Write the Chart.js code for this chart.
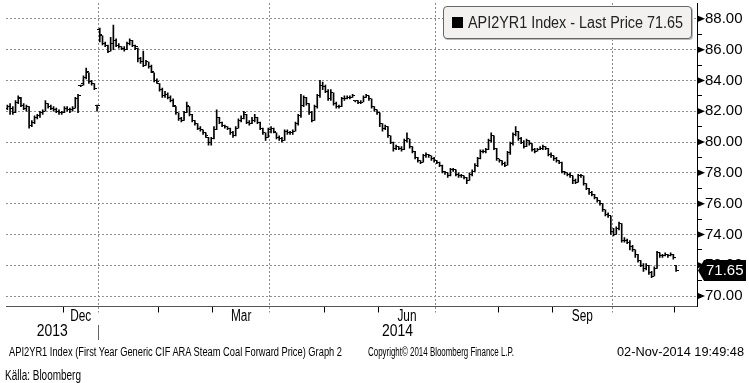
<!DOCTYPE html>
<html>
<head>
<meta charset="utf-8">
<title>API2YR1 Index</title>
<script src="https://cdn.jsdelivr.net/npm/chart.js@4/dist/chart.umd.min.js"></script>
<style>
  html, body { margin:0; padding:0; background:#fff; }
  #wrap { position:relative; width:749px; height:383px; overflow:hidden; background:#fff; }
  #c { position:absolute; left:0; top:0; width:749px; height:383px; }
  .t { position:absolute; white-space:nowrap; font-family:"Liberation Sans", Arial, sans-serif; color:#000; line-height:1; transform-origin:0 50%; }
  #legend { position:absolute; left:443px; top:6px; width:247px; height:31px; border:1px solid #666; border-radius:4px; background:#f2f1ef; box-shadow:1px 1px 0 #bbb; }
  #sq { position:absolute; left:452px; top:17px; width:11px; height:11px; background:#000; }
</style>
</head>
<body>
<div id="wrap">
  <canvas id="c" width="749" height="383"></canvas>
  <div id="legend"></div>
  <div id="sq"></div>
  <div class="t" id="legtext">API2YR1 Index - Last Price 71.65</div>
  <div class="t" id="foot1">API2YR1 Index (First Year Generic CIF ARA Steam Coal Forward Price) Graph 2</div>
  <div class="t" id="foot2">Copyright© 2014 Bloomberg Finance L.P.</div>
  <div class="t" id="foot3">02-Nov-2014 19:49:48</div>
  <div class="t" id="source">Källa: Bloomberg</div>
</div>
<script>
// ---- DATA (daily bars, Nov 2013 - Oct 2014, trading-day index) ----
const openPx = [
82.2,82.3,82.2,81.9,82.6,82.8,82.4,82.2,82.3,81.1,
81.3,81.6,81.7,81.9,82.0,82.5,82.3,82.2,82.1,82.0,
81.9,81.9,82.2,82.1,82.1,82.2,82.8,83.7,83.8,84.2,
84.5,83.9,83.8,82.4,87.3,86.9,86.4,86.3,85.9,86.4,
86.6,86.3,86.2,86.1,86.0,86.4,86.6,86.3,86.1,85.4,
85.2,85.0,85.2,84.9,84.5,84.0,83.8,83.4,83.0,83.1,
82.9,82.7,82.3,81.9,81.5,81.4,81.9,82.3,81.8,81.4,
81.2,80.9,80.8,80.6,80.3,80.0,80.2,80.8,81.6,81.3,
81.1,81.0,80.9,80.6,80.4,80.9,81.4,81.5,81.8,81.3,
81.2,81.4,81.6,81.3,80.9,80.6,80.3,80.8,80.9,80.6,
80.3,80.2,80.1,80.7,80.6,80.6,80.7,81.2,81.7,82.4,
82.9,82.5,81.9,81.4,82.3,83.0,83.7,83.6,83.3,82.8,
83.2,82.5,82.3,82.3,82.8,82.8,82.9,82.9,82.7,82.7,
82.6,82.6,82.9,83.0,82.8,82.3,82.1,81.9,81.2,80.9,
81.0,80.4,80.0,79.6,79.7,79.6,79.5,80.1,80.2,79.7,
79.4,79.0,78.8,78.7,79.1,79.2,79.1,78.9,78.8,78.7,
78.5,78.1,78.0,77.8,78.2,78.2,77.9,77.8,77.8,77.7,
77.5,77.9,78.1,78.5,78.9,79.4,79.4,79.5,80.1,80.4,
79.6,78.9,78.8,78.6,78.5,79.3,79.9,80.5,80.7,80.2,
80.0,79.7,80.1,79.9,79.5,79.4,79.5,79.6,79.7,79.6,
79.2,79.1,78.9,78.8,78.7,78.1,78.0,77.9,77.8,77.5,
77.4,77.8,77.8,77.3,77.0,76.7,76.6,76.4,76.2,76.0,
75.6,75.3,75.2,74.2,74.0,74.4,74.7,73.6,73.6,73.5,
73.2,73.0,72.7,72.3,72.0,71.8,72.0,71.5,71.3,71.8,
72.8,72.6,72.6,72.7,72.6,72.7,72.0];
const highPx = [
82.4,82.5,82.3,82.7,83.0,82.9,82.5,82.4,82.3,81.4,
81.7,81.8,82.0,82.1,82.7,82.5,82.4,82.3,82.2,82.1,
82.0,82.3,82.3,82.2,82.3,82.9,83.1,83.7,84.3,84.8,
84.5,84.0,83.8,82.4,87.4,86.9,86.5,86.3,86.8,87.6,
86.7,86.4,86.2,86.2,86.5,86.7,86.6,86.3,86.1,85.5,
85.9,85.3,85.2,85.0,84.5,84.1,83.8,83.5,83.3,83.2,
83.0,82.8,82.3,81.9,81.6,82.0,82.6,82.3,81.8,81.4,
81.2,81.0,80.8,80.6,80.3,80.3,81.0,82.1,81.6,81.3,
81.1,81.0,80.9,80.7,81.0,81.5,81.7,82.0,81.8,81.4,
81.6,81.8,81.6,81.3,80.9,80.6,80.9,81.0,80.9,80.6,
80.4,80.3,80.8,80.8,80.7,80.8,81.3,81.8,83.1,83.0,
82.9,82.5,82.0,82.4,83.1,84.0,83.9,83.7,83.4,83.4,
83.2,82.6,82.4,82.9,83.0,83.0,83.0,83.1,82.7,82.7,
82.7,83.0,83.1,83.0,82.8,82.3,82.1,81.9,81.2,81.1,
81.0,80.4,80.0,79.8,79.7,79.7,80.2,80.6,80.2,79.7,
79.4,79.0,78.8,79.2,79.3,79.2,79.1,79.0,78.8,78.7,
78.5,78.1,78.0,78.3,78.3,78.2,78.0,77.9,77.8,77.7,
78.0,78.2,78.6,79.0,79.5,79.5,79.6,80.2,80.6,80.4,
79.6,78.9,78.8,78.7,79.4,80.0,80.6,81.0,80.7,80.3,
80.1,80.2,80.1,79.9,79.6,79.6,79.7,79.8,79.7,79.6,
79.3,79.1,79.0,78.8,78.7,78.1,78.0,78.0,77.8,77.6,
77.9,77.9,77.8,77.3,77.0,76.8,76.6,76.4,76.2,76.0,
75.6,75.4,75.2,74.4,74.5,74.8,74.7,73.8,73.7,73.6,
73.3,73.0,72.7,72.3,72.1,72.1,72.0,71.6,71.9,72.9,
72.8,72.7,72.8,72.7,72.8,72.7,72.0];
const lowPx = [
82.1,81.8,81.8,81.9,82.5,82.3,82.1,82.0,80.9,81.0,
81.2,81.5,81.6,81.8,82.0,82.2,82.1,82.0,81.9,81.8,
81.8,81.9,82.0,81.9,82.0,82.2,81.9,83.6,83.7,84.1,
83.8,83.7,83.4,82.0,86.5,86.3,86.2,85.8,85.9,86.0,
86.2,86.1,86.0,85.9,86.0,86.3,86.2,86.0,85.2,85.1,
84.9,85.0,84.8,84.5,83.9,83.8,83.3,82.9,82.9,82.8,
82.6,82.3,81.8,81.4,81.3,81.4,81.9,81.7,81.3,81.1,
80.8,80.7,80.5,80.3,79.8,79.8,80.2,80.8,81.2,81.0,
80.9,80.8,80.5,80.3,80.4,80.9,81.3,81.5,81.2,81.1,
81.2,81.3,81.2,80.8,80.5,80.1,80.3,80.6,80.6,80.2,
80.1,80.0,80.1,80.5,80.5,80.5,80.7,81.1,81.6,82.3,
82.4,81.8,81.3,81.4,82.2,82.9,83.4,83.2,82.7,82.7,
82.4,82.2,82.2,82.3,82.7,82.8,82.8,82.9,82.6,82.5,
82.5,82.6,82.9,82.7,82.2,82.0,81.8,81.0,80.7,80.8,
80.3,79.9,79.4,79.5,79.5,79.4,79.5,80.0,79.6,79.3,
78.9,78.7,78.6,78.7,79.0,79.0,78.8,78.7,78.6,78.4,
78.0,77.9,77.7,77.8,78.1,77.8,77.7,77.7,77.6,77.3,
77.5,77.8,78.1,78.4,78.9,79.3,79.3,79.5,80.0,79.5,
78.8,78.7,78.5,78.4,78.5,79.2,79.8,80.4,80.1,79.9,
79.6,79.7,79.8,79.4,79.3,79.4,79.5,79.5,79.5,79.1,
79.0,78.8,78.7,78.6,78.0,77.9,77.8,77.7,77.3,77.3,
77.4,77.7,77.2,76.9,76.6,76.5,76.3,76.1,75.9,75.5,
75.2,75.1,74.0,73.9,74.0,74.3,73.5,73.5,73.4,73.0,
72.9,72.5,72.2,71.9,71.6,71.7,71.4,71.2,71.3,71.8,
72.5,72.5,72.6,72.5,72.6,72.4,71.6];
const closePx = [
82.3,82.2,81.9,82.6,82.9,82.4,82.2,82.3,81.1,81.3,
81.6,81.7,81.9,82.0,82.5,82.3,82.2,82.1,82.0,81.9,
81.9,82.2,82.1,82.1,82.2,82.8,83.0,83.7,84.2,84.6,
83.9,83.8,83.5,82.4,87.0,86.4,86.3,85.9,86.4,86.6,
86.3,86.2,86.1,86.0,86.4,86.6,86.3,86.2,85.4,85.2,
85.0,85.2,84.9,84.6,84.0,83.9,83.4,83.0,83.1,82.9,
82.7,82.4,81.9,81.5,81.4,81.9,82.4,81.8,81.4,81.2,
80.9,80.8,80.6,80.4,80.0,80.2,80.8,81.6,81.3,81.1,
81.0,80.9,80.6,80.4,80.9,81.4,81.5,81.9,81.3,81.2,
81.4,81.6,81.3,80.9,80.6,80.3,80.8,80.9,80.7,80.3,
80.2,80.1,80.7,80.6,80.6,80.7,81.2,81.7,82.4,82.9,
82.5,81.9,81.4,82.3,83.0,83.7,83.6,83.3,82.8,83.2,
82.5,82.3,82.3,82.8,82.8,82.9,82.9,83.0,82.7,82.6,
82.6,82.9,83.0,82.8,82.3,82.1,81.9,81.2,80.9,81.0,
80.4,80.0,79.6,79.7,79.6,79.5,80.1,80.2,79.7,79.4,
79.0,78.8,78.7,79.1,79.2,79.1,78.9,78.8,78.7,78.5,
78.1,78.0,77.8,78.2,78.2,77.9,77.8,77.8,77.7,77.5,
77.9,78.1,78.5,78.9,79.4,79.4,79.5,80.1,80.4,79.6,
78.9,78.8,78.6,78.5,79.3,79.9,80.5,80.7,80.2,80.0,
79.7,80.1,79.9,79.5,79.4,79.5,79.6,79.7,79.6,79.2,
79.1,78.9,78.8,78.7,78.1,78.0,77.9,77.8,77.5,77.4,
77.8,77.8,77.3,77.0,76.7,76.6,76.4,76.2,76.0,75.6,
75.3,75.2,74.2,74.0,74.4,74.7,73.6,73.6,73.5,73.2,
73.0,72.7,72.3,72.0,71.8,72.0,71.5,71.3,71.8,72.8,
72.6,72.6,72.7,72.6,72.7,72.5,71.65];

// month boundaries (in bar-index units) and quarter boundaries
const monthStarts = [20.5, 33.5, 55.5, 75.5, 96.5, 116.5, 136.5, 157.5, 180.5, 200.5, 222.5, 245.5];
const quarterStarts = [33.5, 96.5, 157.5, 222.5];
const monthLabels = ["Dec", "Mar", "Jun", "Sep"];
const monthLabelPos = [27, 86, 147, 211.5];
const yearLabels = ["2013", "2014"];
const yearLabelPos = [16.5, 143.5];
const yearBreak = 33.5;
const yTickValues = [70,71,72,73,74,75,76,77,78,79,80,81,82,83,84,85,86,87,88];
const yMajorValues = [70,72,74,76,78,80,82,84,86,88];

// ---- tick images for open / close marks ----
function tickImg(side) {
  const cv = document.createElement('canvas');
  cv.width = 5; cv.height = 1;
  const g = cv.getContext('2d');
  g.fillStyle = '#000';
  if (side === 'L') g.fillRect(0, 0, 2, 1); else g.fillRect(3, 0, 2, 1);
  return cv;
}
const openImg = tickImg('L');
const closeImg = tickImg('R');

const idx = closePx.map((_, i) => i);
const isQuarter = v => quarterStarts.some(q => Math.abs(q - v) < 1e-6);

const FONT = '"Liberation Sans", Arial, sans-serif';

function squeezedText(ctx, text, cx, cy, size, squeeze, color) {
  ctx.save();
  ctx.font = size + 'px ' + FONT;
  ctx.fillStyle = color || '#000';
  ctx.textAlign = 'center';
  ctx.textBaseline = 'middle';
  ctx.translate(cx, cy);
  ctx.scale(squeeze, 1);
  ctx.fillText(text, 0, 0);
  ctx.restore();
}

const decor = {
  id: 'decor',
  afterDraw(chart) {
    const { ctx, chartArea: a } = chart;
    const x = chart.scales.x, y = chart.scales.y;
    ctx.save();
    // major tick triangles on right axis
    ctx.fillStyle = '#000';
    yMajorValues.forEach(v => {
      const py = y.getPixelForValue(v);
      ctx.beginPath();
      ctx.moveTo(a.right, py - 3.5);
      ctx.lineTo(a.right + 8, py);
      ctx.lineTo(a.right, py + 3.5);
      ctx.closePath();
      ctx.fill();
    });
    // month labels
    monthLabels.forEach((t, i) => {
      squeezedText(ctx, t, x.getPixelForValue(monthLabelPos[i]), 317, 16, 0.74);
    });
    // year labels
    yearLabels.forEach((t, i) => {
      squeezedText(ctx, t, x.getPixelForValue(yearLabelPos[i]), 332, 16, 0.87);
    });
    // year separator
    const bx = Math.round(x.getPixelForValue(yearBreak)) + 0.5;
    ctx.strokeStyle = '#666';
    ctx.lineWidth = 1;
    ctx.beginPath();
    ctx.moveTo(bx, 325);
    ctx.lineTo(bx, 340);
    ctx.stroke();
    // last price tag
    const last = closePx[closePx.length - 1];
    const py = y.getPixelForValue(last);
    ctx.fillStyle = '#000';
    ctx.beginPath();
    ctx.moveTo(a.right + 1, py);
    ctx.lineTo(a.right + 7, py - 10.5);
    ctx.lineTo(746, py - 10.5);
    ctx.lineTo(746, py + 10.5);
    ctx.lineTo(a.right + 7, py + 10.5);
    ctx.closePath();
    ctx.fill();
    ctx.font = '15px ' + FONT;
    ctx.fillStyle = '#fff';
    ctx.textAlign = 'left';
    ctx.textBaseline = 'middle';
    ctx.fillText(last.toFixed(2), 706, py + 0.5);
    ctx.restore();
  }
};

new Chart(document.getElementById('c'), {
  type: 'bar',
  data: {
    datasets: [
      {
        type: 'bar',
        data: idx.map(i => ({ x: i, y: [lowPx[i], highPx[i]] })),
        backgroundColor: '#000',
        borderWidth: 0,
        barThickness: 1,
        grouped: false,
        order: 3
      },
      {
        type: 'scatter',
        data: idx.map(i => ({ x: i, y: openPx[i] })),
        pointStyle: openImg,
        pointRadius: 2,
        pointHoverRadius: 2,
        order: 2
      },
      {
        type: 'scatter',
        data: idx.map(i => ({ x: i, y: closePx[i] })),
        pointStyle: closeImg,
        pointRadius: 2,
        pointHoverRadius: 2,
        order: 1
      }
    ]
  },
  options: {
    responsive: false,
    animation: false,
    events: [],
    layout: { padding: { left: 6, right: 0, top: 3, bottom: 0 } },
    plugins: { legend: { display: false }, tooltip: { enabled: false } },
    scales: {
      x: {
        type: 'linear',
        position: 'bottom',
        min: -0.5,
        max: 253.7,
        offset: false,
        afterBuildTicks: s => { s.ticks = monthStarts.map(v => ({ value: v })); },
        afterFit: s => { s.height = 76.5; s.paddingLeft = 0; s.paddingRight = 0; },
        ticks: { display: false, autoSkip: false },
        grid: {
          display: true,
          offset: false,
          drawOnChartArea: true,
          drawTicks: true,
          tickLength: 6,
          lineWidth: 1,
          color: c => (c.tick && isQuarter(c.tick.value)) ? '#8a8a8a' : 'rgba(0,0,0,0)',
          tickColor: c => (c.tick && isQuarter(c.tick.value)) ? '#8a8a8a' : '#000',
          tickBorderDash: c => (c.tick && isQuarter(c.tick.value)) ? [2, 2] : []
        },
        border: { display: true, color: '#555', width: 1, dash: [2, 2] }
      },
      y: {
        position: 'right',
        min: 69.32,
        max: 89.03,
        afterBuildTicks: s => { s.ticks = yTickValues.map(v => ({ value: v })); },
        afterFit: s => { s.width = 52; s.paddingTop = 0; s.paddingBottom = 0; },
        ticks: {
          autoSkip: false,
          padding: 3,
          color: '#000',
          font: { family: FONT, size: 15 },
          callback: v => (v % 2 === 0) ? v.toFixed(2) : ''
        },
        grid: {
          display: true,
          drawTicks: true,
          tickLength: 5,
          lineWidth: 1,
          color: c => (c.tick && c.tick.value % 2 === 0) ? '#8f8f8f' : 'rgba(0,0,0,0)',
          tickColor: '#000'
        },
        border: { display: true, color: '#000', width: 1, dash: [2, 2] }
      }
    }
  },
  plugins: [decor]
});

// ---- HTML text placement ----
function fitText(id, left, cy, size, width, color) {
  const el = document.getElementById(id);
  el.style.fontSize = size + 'px';
  el.style.left = left + 'px';
  el.style.top = (cy - size / 2) + 'px';
  if (color) el.style.color = color;
  const w = el.getBoundingClientRect().width;
  el.style.transform = 'scaleX(' + (width / w) + ')';
}
fitText('legtext', 468, 23, 16, 215, '#222');
fitText('foot1', 9, 352, 12, 333);
fitText('foot2', 368, 352, 12, 146);
fitText('foot3', 617, 352, 12, 127);
fitText('source', 5, 375, 14, 76);
</script>
</body>
</html>
